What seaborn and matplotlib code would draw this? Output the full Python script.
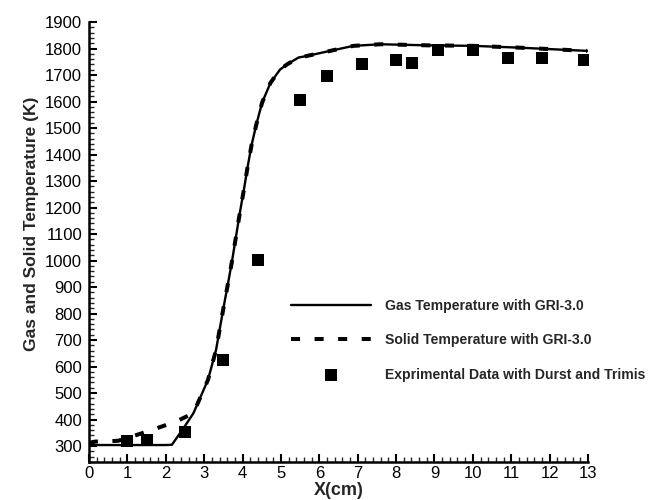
import matplotlib
matplotlib.use("Agg")
import matplotlib.pyplot as plt
from matplotlib.ticker import MultipleLocator
import seaborn as sns
import pandas as pd

# ---- data ----
gas_x = [0.0, 0.5, 1.0, 1.5, 2.0, 2.16, 2.45, 2.72, 3.1, 3.31, 3.51, 3.64, 3.74,
         3.83, 3.93, 4.05, 4.12, 4.23, 4.36, 4.51, 4.73, 4.98, 5.16, 5.46, 5.68,
         6.28, 6.89, 7.59, 8.81, 10.02, 11.24, 12.98]
gas_T = [304, 304, 304, 304, 304, 305, 365, 424, 550, 663, 827, 928, 1010,
         1091, 1180, 1280, 1343, 1432, 1514, 1596, 1671, 1721, 1740, 1766, 1772,
         1791, 1810, 1816, 1812, 1810, 1803, 1791]

solid_x = [0.0, 0.16, 0.76, 1.37, 1.94, 2.3, 2.72, 3.1, 3.31, 3.51, 3.64, 3.74,
           3.83, 3.93, 4.05, 4.12, 4.23, 4.36, 4.51, 4.73, 4.98, 5.16, 5.46, 5.68,
           6.28, 6.89, 7.59, 8.81, 10.02, 11.24, 12.98]
solid_T = [312, 317, 320, 348, 376, 395, 424, 550, 663, 827, 928, 1010,
           1091, 1180, 1280, 1343, 1432, 1514, 1596, 1671, 1721, 1740, 1766, 1772,
           1791, 1810, 1816, 1812, 1810, 1803, 1791]

exp_x = [0.98, 1.51, 2.50, 3.49, 4.41, 5.50, 6.20, 7.11, 8.00, 8.41, 9.09,
         10.0, 10.92, 11.80, 12.89]
exp_T = [319, 323, 352, 623, 1001, 1605, 1696, 1740, 1757, 1745, 1793,
         1793, 1764, 1764, 1757]

labels = ["Gas Temperature with GRI-3.0",
          "Solid Temperature with GRI-3.0",
          "Exprimental Data with Durst and Trimis"]

xticks = list(range(0, 14))
yticks = list(range(300, 2000, 100))

# ---- plotting ----
sns.set_style("ticks")
plt.rcParams["font.family"] = ["Liberation Sans", "DejaVu Sans"]

fig = plt.figure(figsize=(6.51, 5.00), dpi=100)
ax = fig.add_axes([89 / 651, 1 - 462 / 500, (588 - 89) / 651, (462 - 22) / 500])

gas_df = pd.DataFrame({"x": gas_x, "T": gas_T})
solid_df = pd.DataFrame({"x": solid_x, "T": solid_T})
exp_df = pd.DataFrame({"x": exp_x, "T": exp_T})

sns.lineplot(data=gas_df, x="x", y="T", ax=ax, color="black", lw=1.7,
             sort=False, estimator=None, label=labels[0])
sns.lineplot(data=solid_df, x="x", y="T", ax=ax, color="black", lw=2.9,
             sort=False, estimator=None, label=labels[1])
ax.lines[1].set_dashes((2.25, 3.6))
sns.scatterplot(data=exp_df, x="x", y="T", ax=ax, color="black", marker="s",
                s=72, linewidth=0, label=labels[2], zorder=5)

ax.set_xlim(0, 13)
ax.set_ylim(240, 1900)
ax.set_xticks(xticks)
ax.set_yticks(yticks)
ax.xaxis.set_minor_locator(MultipleLocator(0.2))
ax.yaxis.set_minor_locator(MultipleLocator(20))
ax.tick_params(which="major", direction="in", length=6, width=1.5,
               labelsize=12, pad=3, colors="black")
ax.tick_params(which="minor", direction="in", length=3.5, width=1.0)
ax.tick_params(axis="y", pad=5)
for s in ["top", "right"]:
    ax.spines[s].set_visible(False)
for s in ["left", "bottom"]:
    ax.spines[s].set_linewidth(1.8)
    ax.spines[s].set_color("black")

ax.set_xlabel("X(cm)", fontsize=13, fontweight="bold", labelpad=0.3)
ax.set_ylabel("Gas and Solid Temperature (K)", fontsize=12.5,
              fontweight="bold", labelpad=4)
ax.yaxis.label.set_y(0.541)

handles, _ = ax.get_legend_handles_labels()
leg = ax.legend(handles, labels, loc="upper left",
                bbox_to_anchor=(291 / 651, 1 - 299 / 500),
                bbox_transform=fig.transFigure, frameon=False,
                borderpad=0, borderaxespad=0, handlelength=5.7,
                handletextpad=0.98, labelspacing=1.45,
                prop={"weight": "bold", "size": 10.1})

fig.savefig("out.png", dpi=100)
